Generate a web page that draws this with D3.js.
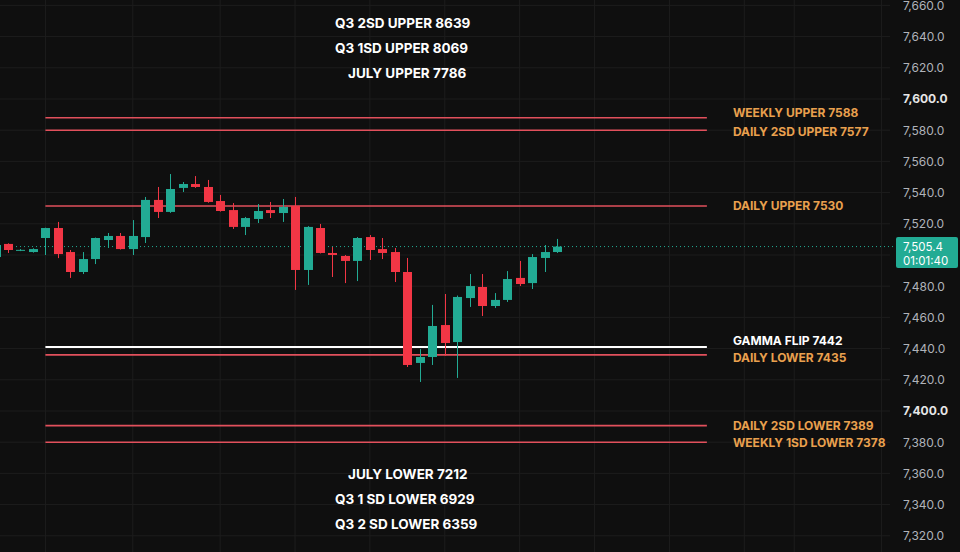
<!DOCTYPE html>
<meta charset="utf-8">
<script src="https://d3js.org/d3.v7.min.js"></script>
<style>
  body { margin: 0; background: #0f0f0f; }
  svg { display: block; font-family: Inter, "Noto Sans", sans-serif; }
</style>
<div id="chart"></div>
<script>

// candles (index 0 is the partly hidden one on the left)
var opens  = [7498.7, 7507.1, 7503.0, 7501.9, 7510.9, 7517.3, 7501.9, 7489.1, 7497.4, 7509.6, 7512.2, 7503.8, 7511.5, 7535.3, 7527.6, 7543.0, 7545.5, 7543.6, 7534.6, 7528.8, 7518.0, 7523.1, 7528.8, 7526.9, 7531.4, 7490.4, 7517.3, 7501.3, 7499.4, 7496.2, 7511.5, 7503.8, 7501.9, 7489.1, 7430.8, 7434.6, 7455.1, 7444.2, 7472.4, 7479.5, 7467.3, 7471.2, 7485.3, 7482.0, 7498.1, 7501.9];
var highs  = [7507.0, 7507.5, 7503.8, 7504.3, 7517.5, 7521.2, 7503.2, 7501.9, 7511.2, 7514.1, 7514.1, 7522.4, 7537.2, 7543.6, 7551.9, 7546.8, 7550.6, 7548.1, 7538.5, 7533.3, 7524.4, 7532.7, 7534.0, 7535.9, 7537.2, 7518.5, 7519.9, 7505.1, 7500.0, 7511.5, 7512.8, 7510.9, 7504.5, 7498.1, 7439.7, 7468.0, 7475.0, 7474.0, 7487.8, 7487.8, 7475.6, 7489.7, 7496.2, 7500.6, 7506.4, 7510.3];
var lows   = [7498.0, 7501.3, 7502.5, 7501.5, 7500.0, 7498.0, 7485.3, 7487.8, 7494.2, 7504.5, 7503.5, 7500.0, 7507.7, 7523.7, 7527.0, 7540.4, 7543.0, 7533.5, 7527.8, 7516.7, 7512.8, 7520.5, 7523.7, 7521.2, 7477.6, 7480.8, 7501.0, 7485.9, 7482.0, 7483.3, 7496.8, 7497.4, 7482.7, 7428.2, 7418.6, 7429.5, 7435.3, 7421.2, 7466.7, 7460.9, 7466.0, 7469.9, 7480.1, 7478.2, 7489.1, 7501.3];
var closes = [7506.4, 7503.2, 7503.3, 7503.8, 7517.3, 7500.6, 7489.1, 7497.4, 7510.9, 7512.2, 7503.8, 7512.2, 7535.3, 7527.6, 7542.3, 7545.5, 7543.6, 7534.0, 7528.2, 7518.0, 7523.7, 7528.2, 7526.9, 7530.8, 7490.4, 7518.0, 7501.3, 7500.0, 7496.2, 7510.9, 7503.2, 7501.3, 7489.1, 7429.5, 7434.6, 7454.5, 7443.6, 7473.1, 7480.1, 7467.3, 7471.2, 7484.6, 7481.4, 7498.7, 7501.9, 7505.4];

// horizontal levels drawn on the chart
var levelNames  = ["WEEKLY UPPER 7588", "DAILY 2SD UPPER 7577", "DAILY UPPER 7530", "GAMMA FLIP 7442", "DAILY LOWER 7435", "DAILY 2SD LOWER 7389", "WEEKLY 1SD LOWER 7378"];
var levelPrices = [7588, 7580, 7531.4, 7441, 7436, 7390.6, 7380];
var labelPrices = [7591.5, 7578.8, 7531.4, 7445, 7434, 7390.6, 7380];
var levelKinds  = ["red", "red", "red", "white", "red", "red", "red"];

// notes for levels that sit off the price scale
var topNotes    = ["Q3 2SD UPPER 8639", "Q3 1SD UPPER 8069", "JULY UPPER 7786"];
var bottomNotes = ["JULY LOWER 7212", "Q3 1 SD LOWER 6929", "Q3 2 SD LOWER 6359"];

var priceTicks = d3.range(7320, 7661, 20);
var gridBars = [4, 11, 18, 24, 30, 36, 42, 48, 54, 60, 64, 71];
var lastPrice = 7505.4;
var countdown = "01:01:40";

var width = 960, height = 552;
var up = "#22ab94", down = "#f23645", lvlRed = "#e2505c", lvlText = "#e9a04e";

var svg = d3.select("#chart").append("svg")
    .attr("width", width).attr("height", height);

svg.append("rect").attr("width", width).attr("height", height).attr("fill", "#0f0f0f");

var x = d3.scaleLinear().domain([0, 71]).range([-4.5, 881.6]);
var y = d3.scaleLinear().domain([7320, 7660]).range([535.8, 5.4]);

// grid
svg.append("g").selectAll("line").data(priceTicks).enter().append("line")
    .attr("x1", 0).attr("x2", 890)
    .attr("y1", function(d) { return y(d); }).attr("y2", function(d) { return y(d); })
    .attr("stroke", "#1d1d1d").attr("stroke-width", 1);
svg.append("g").selectAll("line").data(gridBars).enter().append("line")
    .attr("x1", function(d) { return x(d); }).attr("x2", function(d) { return x(d); })
    .attr("y1", 0).attr("y2", height)
    .attr("stroke", "#1d1d1d").attr("stroke-width", 1);

// level lines
var first = 4, last = 57;
svg.append("g").selectAll("line").data(levelPrices).enter().append("line")
    .attr("x1", x(first)).attr("x2", x(last))
    .attr("y1", function(d) { return y(d); }).attr("y2", function(d) { return y(d); })
    .attr("stroke", function(d, i) { return levelKinds[i] == "white" ? "#ffffff" : lvlRed; })
    .attr("stroke-width", function(d, i) { return levelKinds[i] == "white" ? 2 : 1.6; });

svg.append("g").selectAll("text").data(levelNames).enter().append("text")
    .attr("x", x(last) + 26)
    .attr("y", function(d, i) { return y(labelPrices[i]); })
    .attr("dy", "0.36em")
    .attr("fill", function(d, i) { return levelKinds[i] == "white" ? "#ffffff" : lvlText; })
    .style("font-size", "12px").style("font-weight", "700")
    .text(function(d) { return d; });

// last price dotted line
svg.append("line")
    .attr("x1", 0).attr("x2", 896)
    .attr("y1", y(lastPrice)).attr("y2", y(lastPrice))
    .attr("stroke", up).attr("stroke-width", 1).attr("stroke-dasharray", "1,3");

// candles
var idx = d3.range(opens.length);
var bw = 9;
var candles = svg.append("g").selectAll("g").data(idx).enter().append("g");
candles.append("line")
    .attr("x1", function(i) { return Math.round(x(i)) + 0.5; })
    .attr("x2", function(i) { return Math.round(x(i)) + 0.5; })
    .attr("y1", function(i) { return y(highs[i]); })
    .attr("y2", function(i) { return y(lows[i]); })
    .attr("stroke", function(i) { return closes[i] >= opens[i] ? up : down; })
    .attr("stroke-width", 1);
candles.append("rect")
    .attr("x", function(i) { return Math.round(x(i)) + 0.5 - bw / 2; })
    .attr("width", bw)
    .attr("y", function(i) { return y(Math.max(opens[i], closes[i])); })
    .attr("height", function(i) { return Math.max(1, Math.abs(y(opens[i]) - y(closes[i]))); })
    .attr("fill", function(i) { return closes[i] >= opens[i] ? up : down; });

// notes at top and bottom
svg.append("g").selectAll("text").data(topNotes).enter().append("text")
    .attr("x", function(d) { return d.indexOf("JULY") == 0 ? 348 : 335; })
    .attr("y", function(d, i) { return 23 + i * 25; })
    .attr("dy", "0.36em")
    .attr("fill", "#ffffff").style("font-size", "13.5px").style("font-weight", "700")
    .text(function(d) { return d; });
svg.append("g").selectAll("text").data(bottomNotes).enter().append("text")
    .attr("x", function(d) { return d.indexOf("JULY") == 0 ? 348 : 335; })
    .attr("y", function(d, i) { return 474 + i * 25; })
    .attr("dy", "0.36em")
    .attr("fill", "#ffffff").style("font-size", "13.5px").style("font-weight", "700")
    .text(function(d) { return d; });

// price scale on the right (the tick under the price badge is hidden, as on the original)
var axisTicks = priceTicks.filter(function(d) { return Math.abs(y(d) - y(lastPrice)) > 16; });
var axis = svg.append("g")
    .attr("transform", "translate(897,0)")
    .call(d3.axisRight(y).tickValues(axisTicks).tickFormat(d3.format(",.1f")).tickSize(0).tickPadding(6));
axis.select(".domain").remove();
axis.selectAll("text")
    .attr("fill", function(d) { return d % 200 == 0 ? "#e6e6e6" : "#b0b3ba"; })
    .style("font-weight", function(d) { return d % 200 == 0 ? "700" : "400"; })
    .style("font-size", "12px")
    .style("font-family", "Inter, 'Noto Sans', sans-serif");

// last price badge
var by = y(lastPrice);
svg.append("rect")
    .attr("x", 896).attr("y", by - 9.5).attr("width", 62).attr("height", 31)
    .attr("rx", 2).attr("fill", up);
svg.append("text").attr("x", 903).attr("y", by).attr("dy", "0.36em")
    .attr("fill", "#ffffff").style("font-size", "11.5px")
    .text(d3.format(",.1f")(lastPrice));
svg.append("text").attr("x", 903).attr("y", by + 14).attr("dy", "0.36em")
    .attr("fill", "#ffffff").style("font-size", "11.5px")
    .text(countdown);

</script>
